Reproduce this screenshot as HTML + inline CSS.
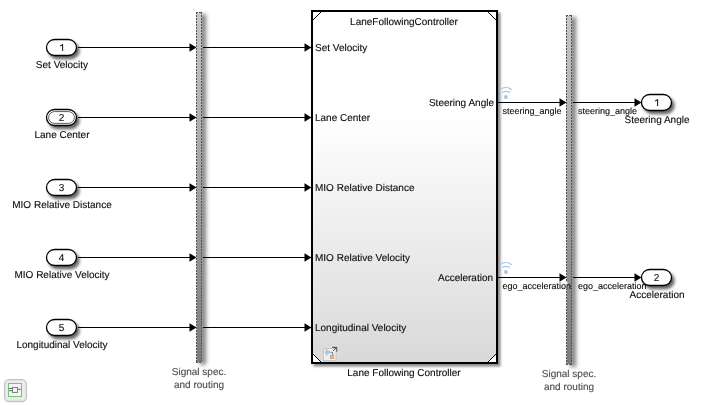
<!DOCTYPE html>
<html><head><meta charset="utf-8"><style>
html,body{margin:0;padding:0;background:#fff;width:701px;height:405px;overflow:hidden}
svg{display:block;will-change:transform}
text{text-rendering:geometricPrecision;font-family:"Liberation Sans",sans-serif;font-size:10px;fill:#0c0c0c;stroke:#0c0c0c;stroke-width:0.12px}
.sig{font-size:9px}
.gr{fill:#4a4a4a;stroke:#4a4a4a}
.pn{font-size:10px}
</style></head><body>
<svg width="701" height="405" viewBox="0 0 701 405">
<defs>
<filter id="sh" x="-30%" y="-30%" width="160%" height="160%">
<feDropShadow dx="2.5" dy="3" stdDeviation="1.6" flood-color="#000" flood-opacity="0.6"/>
</filter>
<filter id="shb" x="-10%" y="-10%" width="120%" height="120%">
<feDropShadow dx="2.5" dy="2.5" stdDeviation="1.3" flood-color="#000" flood-opacity="0.45"/>
</filter>
<filter id="shbar" x="-200%" y="-5%" width="500%" height="110%">
<feDropShadow dx="4" dy="2" stdDeviation="2.1" flood-color="#000" flood-opacity="0.5"/>
</filter>
<linearGradient id="bus" x1="0" y1="0" x2="0" y2="1">
<stop offset="0" stop-color="#c6c6c6"/>
<stop offset="1" stop-color="#7c7c7c"/>
</linearGradient>
<linearGradient id="blk" x1="0" y1="0" x2="0" y2="1">
<stop offset="0" stop-color="#ffffff"/>
<stop offset="0.3" stop-color="#ffffff"/>
<stop offset="1" stop-color="#d9d9d9"/>
</linearGradient>
<g id="arr"><path d="M0,-4.2 L7,0 L0,4.2 Z" fill="#000"/></g>
</defs>

<!-- input lines -->
<g stroke="#000" stroke-width="1" fill="none">
<path d="M78,47.5H190 M203,47.5H305"/>
<path d="M78,117.5H190 M203,117.5H305"/>
<path d="M78,187.5H190 M203,187.5H305"/>
<path d="M78,257.5H190 M203,257.5H305"/>
<path d="M78,327.5H190 M203,327.5H305"/>
<path d="M498,102.5H560 M573,102.5H635"/>
<path d="M498,277.5H560 M573,277.5H635"/>
</g>
<g fill="#000">
<use href="#arr" x="189.5" y="47.5"/><use href="#arr" x="304.5" y="47.5"/>
<use href="#arr" x="189.5" y="117.5"/><use href="#arr" x="304.5" y="117.5"/>
<use href="#arr" x="189.5" y="187.5"/><use href="#arr" x="304.5" y="187.5"/>
<use href="#arr" x="189.5" y="257.5"/><use href="#arr" x="304.5" y="257.5"/>
<use href="#arr" x="189.5" y="327.5"/><use href="#arr" x="304.5" y="327.5"/>
<use href="#arr" x="559.5" y="102.5"/><use href="#arr" x="634.5" y="102.5"/>
<use href="#arr" x="559.5" y="277.5"/><use href="#arr" x="634.5" y="277.5"/>
</g>

<!-- inports -->
<g filter="url(#sh)" fill="#fff" stroke="#000" stroke-width="1.3">
<rect x="46.5" y="39.5" width="30" height="16" rx="8"/>
<rect x="46.5" y="109.5" width="30" height="16" rx="8"/>
<rect x="46.5" y="179.5" width="30" height="16" rx="8"/>
<rect x="46.5" y="249.5" width="30" height="16" rx="8"/>
<rect x="46.5" y="319.5" width="30" height="16" rx="8"/>
<rect x="641.5" y="94.5" width="30" height="16" rx="8"/>
<rect x="641.5" y="269.5" width="30" height="16" rx="8"/>
</g>
<rect x="48.6" y="111.6" width="25.8" height="11.8" rx="5.9" fill="none" stroke="#333" stroke-width="0.8"/>
<g text-anchor="middle">
<path d="M62.6,44.1 V51 M62.7,44.3 C62,45.3 61.2,45.8 59.9,46" stroke="#1a1a1a" stroke-width="1.05" fill="none"/>
<text class="pn" x="61.6" y="120.5">2</text>
<text class="pn" x="61.6" y="190.5">3</text>
<text class="pn" x="61.6" y="260.5">4</text>
<text class="pn" x="61.6" y="330.5">5</text>
<path d="M657.6,99.1 V106 M657.7,99.3 C657,100.3 656.2,100.8 654.9,101" stroke="#1a1a1a" stroke-width="1.05" fill="none"/>
<text class="pn" x="656.6" y="280.5">2</text>
<text x="62" y="68">Set Velocity</text>
<text x="62" y="138">Lane Center</text>
<text x="62" y="208">MIO Relative Distance</text>
<text x="62" y="278">MIO Relative Velocity</text>
<text x="62" y="348">Longitudinal Velocity</text>
<text x="657" y="123">Steering Angle</text>
<text x="657" y="298">Acceleration</text>
</g>

<!-- bus bars -->
<g filter="url(#shbar)">
<rect x="197" y="13" width="5" height="349" fill="url(#bus)"/>
<path d="M196.5,13 V362" stroke="#d2d2d2" stroke-width="1"/>
<path d="M196.5,12 V363 M201.5,12 V363 M196,12.5 H202 M196,362.5 H202" stroke="#555" stroke-width="1" stroke-dasharray="2,1" fill="none"/>
</g>
<g filter="url(#shbar)">
<rect x="567" y="16" width="5" height="348" fill="url(#bus)"/>
<path d="M566.5,16 V364" stroke="#d2d2d2" stroke-width="1"/>
<path d="M566.5,15 V365 M571.5,15 V365 M566,15.5 H572 M566,364.5 H572" stroke="#555" stroke-width="1" stroke-dasharray="2,1" fill="none"/>
</g>
<!-- block -->
<rect x="312" y="11" width="185" height="352" fill="url(#blk)" stroke="#000" stroke-width="2" filter="url(#shb)"/>
<path d="M313,362 L313,354 L321,362 Z M496,362 L496,354 L488,362 Z" fill="#fff"/>
<g stroke="#000" stroke-width="1" fill="none">
<path d="M313,20 L321,12 M488,12 L496,20 M313,354 L321,362 M496,354 L488,362"/>
</g>
<text x="404" y="24.5" text-anchor="middle">LaneFollowingController</text>
<text x="315" y="50.5">Set Velocity</text>
<text x="315" y="120.5">Lane Center</text>
<text x="315" y="190.5">MIO Relative Distance</text>
<text x="315" y="260.5">MIO Relative Velocity</text>
<text x="315" y="330.5">Longitudinal Velocity</text>
<text x="494" y="106" text-anchor="end">Steering Angle</text>
<text x="493" y="281" text-anchor="end">Acceleration</text>
<text x="404" y="376.4" text-anchor="middle">Lane Following Controller</text>

<!-- subsystem icon -->
<g>
<rect x="323.5" y="348.5" width="12.5" height="12" fill="#efefef" stroke="#c6c6c6" stroke-width="1"/>
<path d="M331.5,346.5 H338 V353" fill="none" stroke="#e2e2e2" stroke-width="2.2"/>
<path d="M325,352.3 H326.1" stroke="#888" stroke-width="0.8"/>
<path d="M326.1,349.4 L330.7,352.3 L326.1,355.2 Z" fill="#a9cdeb" stroke="#8fb4d6" stroke-width="0.6"/>
<path d="M330.7,352.3 H332.6 V355" stroke="#666" stroke-width="0.8" fill="none"/>
<rect x="330.5" y="355.3" width="3.2" height="3.1" fill="#ebb99c" stroke="#cd8f72" stroke-width="0.8"/>
<path d="M333,351 L336.3,347.7" stroke="#555" stroke-width="1" fill="none"/>
<path d="M332.2,347.4 H336.8 V351.8" stroke="#555" stroke-width="1.1" fill="none"/>
</g>
<!-- wifi icons -->
<g fill="none" stroke="#a3c5e8" stroke-width="1.1" stroke-linecap="round">
<path d="M500.2,89.7 A8.7,8.7 0 0 1 511.6,89.7"/>
<path d="M502.4,92.4 A7.1,7.1 0 0 1 509.6,92.4"/>
<path d="M500.2,264.7 A8.7,8.7 0 0 1 511.6,264.7"/>
<path d="M502.4,267.4 A7.1,7.1 0 0 1 509.6,267.4"/>
</g>
<circle cx="505.9" cy="97" r="1.9" fill="#a3c5e8"/>
<circle cx="505.9" cy="272" r="1.9" fill="#a3c5e8"/>

<!-- signal labels -->
<text class="sig" x="502.5" y="114">steering_angle</text>
<text class="sig" x="578" y="114">steering_angle</text>
<rect x="559" y="282" width="8.6" height="7" fill="#f3f3f3"/>
<text class="sig" x="502.5" y="289">ego_acceleration</text>
<text class="sig" x="578" y="289">ego_acceleration</text>

<!-- bus labels -->
<g text-anchor="middle" class="gr">
<text class="gr" x="199" y="374.8">Signal spec.</text>
<text class="gr" x="199" y="388.4">and routing</text>
<text class="gr" x="569" y="376.8">Signal spec.</text>
<text class="gr" x="569" y="390.4">and routing</text>
</g>

<!-- bottom-left icon -->
<rect x="4.6" y="379.6" width="21.8" height="21.9" rx="4.5" fill="#ebebeb" stroke="#c4c4c4" stroke-width="1.3"/>
<rect x="8.5" y="383.5" width="13" height="13" fill="#f6f3f6" stroke="#74c674" stroke-width="1"/>
<rect x="12.5" y="387.5" width="5" height="5" fill="#f2f2f2" stroke="#777" stroke-width="0.9"/>
<path d="M9,388.5 H12.2 M9,390.7 H12.2 M17.8,389.3 H21" stroke="#6e6e6e" stroke-width="1"/>
</svg>
</body></html>
